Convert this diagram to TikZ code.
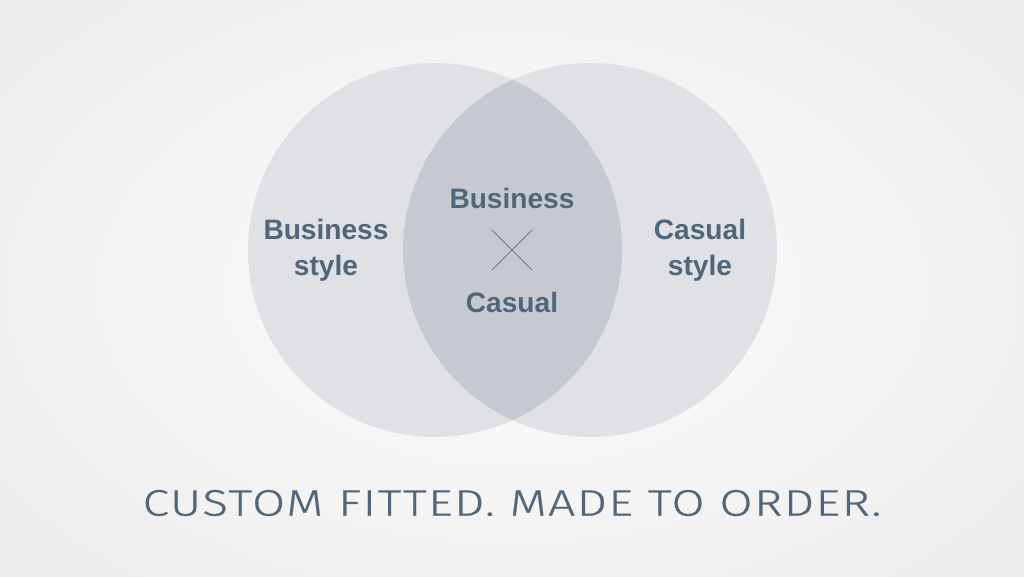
\documentclass[tikz,border=0pt]{standalone}
\usepackage{fontspec}
\setmainfont{Liberation Sans}
\newfontfamily\thinfont[FakeStretch=1.3,LetterSpace=4,FakeBold=0.6]{Fira Sans Light}
\definecolor{bgin}{HTML}{FCFCFC}
\definecolor{bgout}{HTML}{EDEDED}
\definecolor{circ}{HTML}{DFE1E4}
\definecolor{lens}{HTML}{C6CAD0}
\definecolor{slate}{HTML}{52667A}
\definecolor{crossc}{HTML}{717D8B}
\tikzset{
  lbl/.style={font=\bfseries\fontsize{16}{20.4}\selectfont, text=slate, align=center, inner sep=0pt},
  tagline/.style={font=\thinfont\fontsize{21}{24}\selectfont, text=slate, inner sep=0pt},
}
\begin{document}
\begin{tikzpicture}[x=0.02cm,y=-0.02cm]
\useasboundingbox (0,0) rectangle (1024,576);
\shade[inner color=bgin, outer color=bgout] (-150,-120) rectangle (1174,696);
\fill[circ] (435,250) circle (187);
\fill[circ] (590,250) circle (187);
\begin{scope}
\clip (435,250) circle (187);
\fill[lens] (590,250) circle (187);
\end{scope}
\node[lbl] (bs) at (326,250) {Business\\style};
\node[lbl] (cs) at (700,250) {Casual\\style};
\node[lbl] (b) at (512,198) {Business};
\node[lbl] (c) at (512,302) {Casual};
\coordinate (x1) at (492,230);
\coordinate (x2) at (532,270);
\coordinate (x3) at (532,230);
\coordinate (x4) at (492,270);
\draw[crossc, line width=0.5pt] (x1) -- (x2);
\draw[crossc, line width=0.5pt] (x3) -- (x4);
\node[tagline] (t) at (512,503) {CUSTOM FITTED. MADE TO ORDER.};
\end{tikzpicture}
\end{document}
